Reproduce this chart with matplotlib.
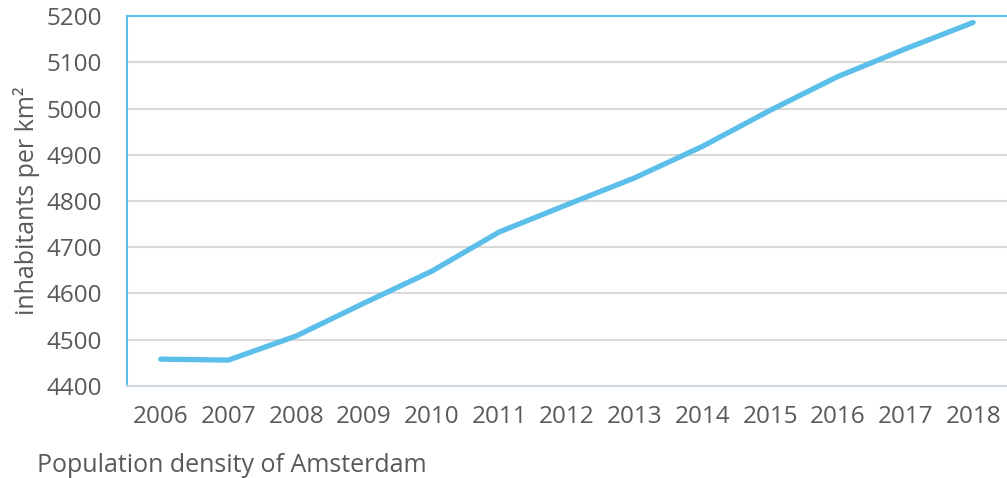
import matplotlib.pyplot as plt

plt.rcParams['font.family'] = ['Open Sans', 'DejaVu Sans']

years = ['2006', '2007', '2008', '2009', '2010', '2011', '2012',
         '2013', '2014', '2015', '2016', '2017', '2018']
density = [4458, 4456, 4508, 4579, 4648, 4733, 4792,
           4850, 4918, 4996, 5069, 5129, 5186]
y_ticks = [4400, 4500, 4600, 4700, 4800, 4900, 5000, 5100, 5200]

line_col = '#5BBFEA'
text_col = '#595959'

fig = plt.figure(figsize=(10.07, 4.78), dpi=100)
ax = fig.add_axes([0.126, 0.1925, 0.874, 0.774])

x = range(len(years))
ax.plot(x, density, color=line_col, lw=3.8, solid_capstyle='round',
        solid_joinstyle='round', zorder=3)

ax.set_xlim(-0.5, len(years) - 0.5)
ax.set_ylim(4400, 5200)
ax.set_yticks(y_ticks)
ax.set_xticks(list(x))
ax.set_xticklabels(years)

ax.grid(axis='y', color='#D9D9D9', lw=1.5)
ax.set_axisbelow(True)
ax.tick_params(length=0, labelsize=17.5, labelcolor=text_col)
ax.tick_params(axis='y', pad=18)
ax.tick_params(axis='x', pad=14)

for side in ['left', 'top']:
    ax.spines[side].set_color(line_col)
    ax.spines[side].set_linewidth(1.5)
ax.spines['right'].set_visible(False)
ax.spines['bottom'].set_color('#CFD8DE')
ax.spines['bottom'].set_linewidth(1.5)

fig.text(0.026, 0.58, 'inhabitants per km²', rotation=90, ha='center',
         va='center', fontsize=18, color=text_col)
fig.text(37 / 1007, 0.027, 'Population density of Amsterdam', ha='left',
         va='center', fontsize=18, color=text_col)

fig.savefig('out.png', dpi=100)
